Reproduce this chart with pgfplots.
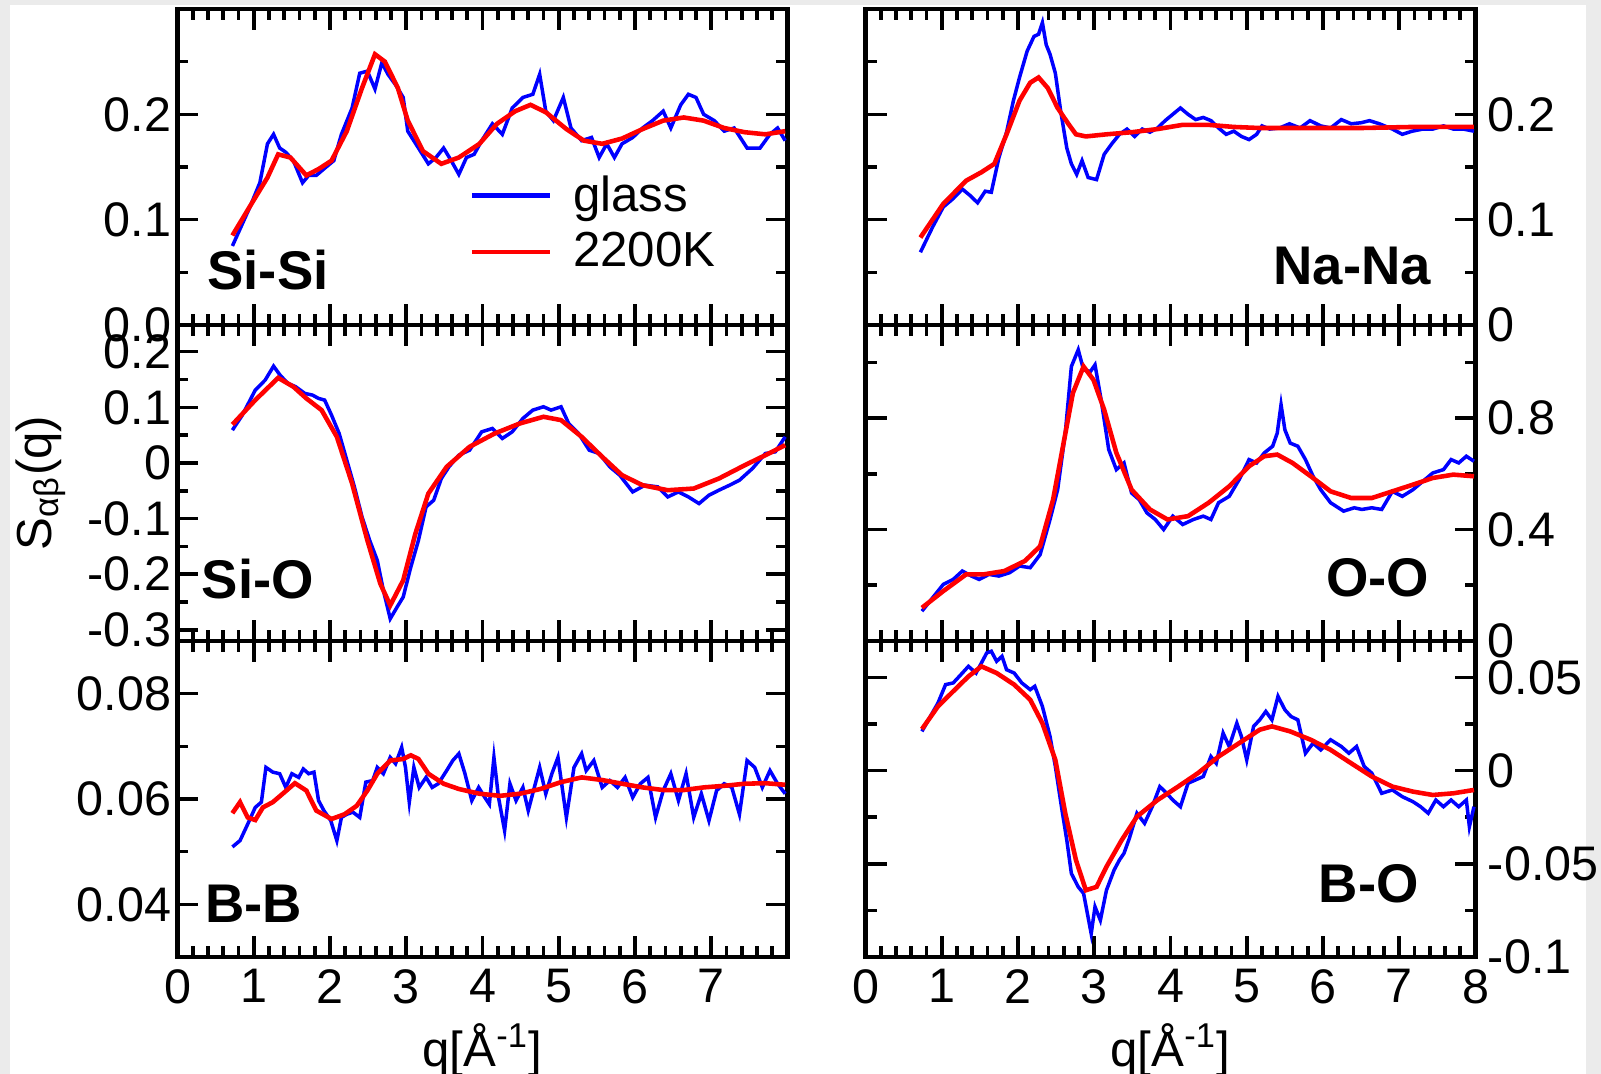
\documentclass[border=0pt]{standalone}
\usepackage{fontspec}
\setmainfont{Liberation Sans}
\usepackage{pgfplots}
\pgfplotsset{compat=1.18}

\newcommand\ticks{\fontsize{13.8}{16}\selectfont}
\newcommand\lbl{\fontsize{14}{16}\selectfont}
\newcommand\panel{\fontsize{15.5}{18}\selectfont\bfseries}

\tikzset{tag/.style={font=\panel, inner sep=0pt}}
\pgfplotsset{
  sq/.style={
    scale only axis, width=6.10cm, height=3.16cm,
    xmin=0, xmax=8, xtick={0,1,...,8}, minor x tick num=4,
    scaled ticks=false,
    tick align=inside,
    major tick length=0.21cm, minor tick length=0.11cm,
    every tick/.style={black, line width=1pt},
    axis line style={line width=1.2pt},
    tick label style={font=\ticks},
    xticklabels={},
    yticklabel style={xshift=0.06cm},
    clip=true,
  },
  right col/.style={yticklabel pos=right, ytick pos=both, yticklabel style={xshift=-0.06cm}},
  glass/.style={color=blue, line width=1.0pt},
  hot/.style={color=red, line width=1.3pt},
}

\begin{document}
\begin{tikzpicture}
\fill[black!8] (0,0) rectangle (16.01,10.74);
\fill[white] (0.10,0) rectangle (15.86,10.69);

% ---------------- Si-Si
\begin{axis}[sq, at={(1.775cm,10.65cm)}, anchor=north west,
  ymin=0, ymax=0.3, ytick={0,0.1,0.2}, yticklabels={0.0,0.1,0.2},
  minor ytick={0.05,0.15,0.25},
  legend cell align=left,
  legend style={draw=none, fill=none, font=\fontsize{14}{16}\selectfont,
    at={(0.46,0.52)}, anchor=north west, row sep=0.5pt},
  legend image code/.code={\draw[#1, line width=1.4pt] (0cm,0cm) -- (0.78cm,0cm); \path (0.92cm,0cm);},
]
\addplot[glass] coordinates {
(0.72,0.075)(0.95,0.112)(1.08,0.135)(1.18,0.172)(1.26,0.181)(1.34,0.168)(1.42,0.164)
(1.52,0.156)(1.64,0.135)(1.72,0.142)(1.82,0.142)(1.95,0.150)(2.05,0.156)(2.15,0.181)
(2.29,0.206)(2.39,0.239)(2.49,0.241)(2.59,0.224)(2.68,0.249)(2.76,0.238)(2.86,0.228)
(2.96,0.216)(3.02,0.184)(3.16,0.168)(3.29,0.153)(3.39,0.159)(3.49,0.168)(3.59,0.156)
(3.69,0.143)(3.79,0.159)(3.89,0.162)(3.99,0.175)(4.13,0.191)(4.26,0.181)(4.39,0.206)
(4.53,0.216)(4.66,0.219)(4.75,0.238)(4.83,0.203)(4.93,0.194)(5.06,0.216)(5.16,0.187)
(5.30,0.175)(5.43,0.178)(5.53,0.159)(5.63,0.172)(5.73,0.159)(5.83,0.172)(5.97,0.178)
(6.10,0.187)(6.23,0.194)(6.37,0.203)(6.47,0.187)(6.60,0.209)(6.70,0.219)(6.80,0.216)
(6.90,0.200)(7.04,0.194)(7.17,0.184)(7.30,0.187)(7.47,0.168)(7.64,0.168)(7.77,0.181)
(7.87,0.187)(7.97,0.175)
};
\addlegendentry{glass}
\addplot[hot] coordinates {
(0.72,0.085)(1.02,0.121)(1.18,0.140)(1.32,0.162)(1.48,0.159)(1.69,0.142)(1.85,0.148)
(2.02,0.156)(2.22,0.184)(2.42,0.225)(2.59,0.257)(2.72,0.250)(2.89,0.225)(3.02,0.194)
(3.22,0.165)(3.46,0.153)(3.69,0.159)(3.96,0.172)(4.19,0.191)(4.43,0.203)(4.63,0.209)
(4.83,0.202)(5.10,0.186)(5.33,0.175)(5.57,0.172)(5.83,0.177)(6.10,0.186)(6.37,0.194)
(6.64,0.197)(6.90,0.194)(7.17,0.187)(7.44,0.183)(7.71,0.181)(7.97,0.184)
};
\addlegendentry{2200K}
\node[anchor=base west, tag] at (rel axis cs:0.048,0.111) {Si-Si};
\end{axis}

% ---------------- Na-Na
\begin{axis}[sq, right col, at={(8.655cm,10.65cm)}, anchor=north west,
  ymin=0, ymax=0.3, ytick={0,0.1,0.2}, yticklabels={0,0.1,0.2},
  minor ytick={0.05,0.15,0.25}]
\addplot[glass] coordinates {
(0.72,0.069)(0.88,0.093)(1.02,0.112)(1.15,0.120)(1.27,0.129)(1.37,0.123)(1.47,0.116)
(1.57,0.127)(1.65,0.126)(1.75,0.159)(1.85,0.183)(1.94,0.213)(2.02,0.235)(2.12,0.260)
(2.21,0.274)(2.27,0.276)(2.32,0.287)(2.37,0.266)(2.42,0.257)(2.49,0.239)(2.56,0.203)
(2.64,0.168)(2.70,0.153)(2.77,0.143)(2.84,0.156)(2.92,0.140)(3.03,0.138)(3.13,0.162)
(3.23,0.172)(3.33,0.181)(3.43,0.186)(3.53,0.179)(3.63,0.186)(3.73,0.183)(3.83,0.187)
(3.93,0.194)(4.03,0.200)(4.13,0.206)(4.23,0.200)(4.33,0.195)(4.43,0.197)(4.53,0.194)
(4.63,0.187)(4.73,0.181)(4.83,0.184)(4.93,0.179)(5.03,0.176)(5.13,0.181)(5.20,0.189)
(5.30,0.186)(5.43,0.187)(5.56,0.191)(5.70,0.187)(5.83,0.194)(5.97,0.189)(6.10,0.187)
(6.24,0.195)(6.37,0.191)(6.50,0.192)(6.61,0.194)(6.74,0.191)(6.91,0.186)(7.04,0.181)
(7.17,0.184)(7.31,0.186)(7.44,0.186)(7.58,0.189)(7.71,0.186)(7.84,0.186)(7.98,0.184)
};
\addplot[hot] coordinates {
(0.72,0.083)(1.02,0.115)(1.32,0.137)(1.52,0.145)(1.69,0.153)(1.85,0.181)(2.02,0.213)
(2.16,0.230)(2.27,0.235)(2.39,0.225)(2.52,0.206)(2.66,0.191)(2.76,0.181)(2.89,0.179)
(3.16,0.181)(3.49,0.183)(3.83,0.186)(4.16,0.190)(4.50,0.190)(4.83,0.188)(5.17,0.187)
(5.84,0.187)(6.51,0.187)(7.17,0.188)(7.98,0.188)
};
\node[anchor=base east, tag] at (rel axis cs:0.928,0.128) {Na-Na};
\end{axis}

% ---------------- Si-O
\begin{axis}[sq, at={(1.775cm,7.49cm)}, anchor=north west,
  ymin=-0.32, ymax=0.248, ytick={-0.3,-0.2,-0.1,0,0.1,0.2},
  yticklabels={-0.3,-0.2,-0.1,0,0.1,0.2},
  minor ytick={-0.25,-0.15,-0.05,0.05,0.15},
  ylabel={S\textsubscript{αβ}(q)},
  ylabel style={font=\lbl, at={(axis description cs:-0.224,0.5)}, anchor=center}]
\addplot[glass] coordinates {
(0.72,0.059)(0.85,0.086)(1.02,0.131)(1.15,0.149)(1.26,0.174)(1.35,0.157)(1.45,0.143)
(1.55,0.137)(1.67,0.125)(1.77,0.122)(1.85,0.116)(1.93,0.113)(2.02,0.086)(2.12,0.053)
(2.22,0.005)(2.32,-0.043)(2.42,-0.097)(2.52,-0.139)(2.62,-0.175)(2.70,-0.229)(2.79,-0.280)
(2.88,-0.259)(2.96,-0.241)(3.06,-0.187)(3.16,-0.139)(3.26,-0.079)(3.36,-0.067)(3.46,-0.028)
(3.56,-0.007)(3.69,0.014)(3.83,0.023)(3.99,0.056)(4.13,0.062)(4.26,0.044)(4.39,0.056)
(4.53,0.080)(4.66,0.095)(4.80,0.101)(4.90,0.095)(5.03,0.101)(5.13,0.071)(5.26,0.053)
(5.40,0.023)(5.53,0.017)(5.67,-0.007)(5.80,-0.022)(5.97,-0.052)(6.13,-0.040)(6.30,-0.043)
(6.43,-0.061)(6.57,-0.052)(6.70,-0.061)(6.84,-0.073)(6.97,-0.058)(7.10,-0.049)(7.24,-0.040)
(7.37,-0.031)(7.54,-0.010)(7.71,0.017)(7.84,0.020)(7.97,0.047)
};
\addplot[hot] coordinates {
(0.72,0.069)(1.02,0.113)(1.32,0.153)(1.52,0.137)(1.69,0.116)(1.89,0.095)(2.09,0.047)
(2.29,-0.037)(2.49,-0.139)(2.66,-0.217)(2.79,-0.256)(2.96,-0.211)(3.12,-0.127)(3.29,-0.055)
(3.53,-0.007)(3.83,0.029)(4.16,0.053)(4.49,0.071)(4.80,0.083)(5.03,0.077)(5.30,0.047)
(5.57,0.011)(5.83,-0.022)(6.10,-0.040)(6.43,-0.049)(6.77,-0.046)(7.10,-0.028)(7.44,-0.004)
(7.71,0.014)(7.97,0.032)
};
\node[anchor=base west, tag] at (rel axis cs:0.039,0.133) {Si-O};
\end{axis}

% ---------------- O-O
\begin{axis}[sq, right col, at={(8.655cm,7.49cm)}, anchor=north west,
  ymin=0, ymax=1.134, ytick={0,0.4,0.8}, yticklabels={0,0.4,0.8},
  minor ytick={0.2,0.6,1.0}]
\addplot[glass] coordinates {
(0.74,0.107)(0.88,0.155)(1.02,0.203)(1.15,0.221)(1.27,0.251)(1.39,0.233)(1.49,0.221)
(1.62,0.239)(1.75,0.233)(1.89,0.245)(2.02,0.269)(2.16,0.263)(2.29,0.310)(2.42,0.436)
(2.52,0.543)(2.62,0.746)(2.70,0.985)(2.79,1.045)(2.86,0.973)(2.95,0.967)(3.01,0.991)
(3.09,0.866)(3.19,0.687)(3.29,0.615)(3.39,0.639)(3.49,0.531)(3.59,0.507)(3.69,0.460)
(3.80,0.436)(3.91,0.400)(4.03,0.448)(4.16,0.418)(4.30,0.436)(4.43,0.448)(4.53,0.436)
(4.63,0.496)(4.77,0.519)(4.90,0.579)(5.03,0.651)(5.13,0.639)(5.23,0.675)(5.34,0.699)
(5.40,0.746)(5.45,0.848)(5.50,0.758)(5.57,0.710)(5.67,0.699)(5.77,0.651)(5.87,0.591)
(5.97,0.543)(6.10,0.496)(6.27,0.466)(6.41,0.478)(6.51,0.472)(6.64,0.478)(6.77,0.472)
(6.91,0.537)(7.04,0.519)(7.18,0.543)(7.31,0.573)(7.44,0.603)(7.58,0.615)(7.68,0.651)
(7.78,0.639)(7.88,0.663)(7.98,0.645)
};
\addplot[hot] coordinates {
(0.74,0.119)(1.02,0.179)(1.32,0.239)(1.55,0.239)(1.82,0.251)(2.09,0.287)(2.29,0.340)
(2.46,0.507)(2.59,0.699)(2.72,0.890)(2.86,0.985)(2.99,0.937)(3.13,0.830)(3.29,0.675)
(3.49,0.543)(3.73,0.472)(3.96,0.436)(4.23,0.448)(4.50,0.496)(4.77,0.555)(5.03,0.627)
(5.23,0.663)(5.40,0.669)(5.60,0.639)(5.84,0.591)(6.10,0.537)(6.37,0.513)(6.64,0.513)
(6.91,0.537)(7.18,0.561)(7.44,0.585)(7.71,0.597)(7.98,0.591)
};
\node[anchor=base east, tag] at (rel axis cs:0.925,0.140) {O-O};
\end{axis}

% ---------------- B-B
\begin{axis}[sq, at={(1.775cm,4.33cm)}, anchor=north west,
  ymin=0.03, ymax=0.09, ytick={0.04,0.06,0.08}, yticklabels={0.04,0.06,0.08},
  minor ytick={0.05,0.07},
  xticklabels={0,1,2,3,4,5,6,7,},
  xlabel={q[Å\textsuperscript{-1}]},
  xlabel style={font=\lbl, at={(axis description cs:0.5,-0.294)}, anchor=center}]
\addplot[glass] coordinates {
(0.72,0.0509)(0.82,0.0521)(0.92,0.0552)(1.02,0.0584)(1.10,0.0594)(1.16,0.0660)(1.25,0.0651)
(1.34,0.0648)(1.42,0.0622)(1.50,0.0648)(1.59,0.0641)(1.65,0.0657)(1.72,0.0648)(1.79,0.0651)
(1.85,0.0597)(1.92,0.0578)(2.01,0.0559)(2.09,0.0521)(2.15,0.0565)(2.22,0.0571)(2.30,0.0575)
(2.39,0.0565)(2.47,0.0632)(2.56,0.0635)(2.62,0.0660)(2.70,0.0648)(2.79,0.0679)(2.86,0.0667)
(2.94,0.0698)(2.99,0.0660)(3.04,0.0594)(3.10,0.0660)(3.17,0.0622)(3.26,0.0641)(3.34,0.0622)
(3.42,0.0629)(3.53,0.0654)(3.61,0.0673)(3.69,0.0686)(3.77,0.0648)(3.86,0.0597)(3.95,0.0622)
(4.03,0.0603)(4.09,0.0590)(4.15,0.0679)(4.21,0.0603)(4.29,0.0540)(4.36,0.0629)(4.44,0.0597)
(4.53,0.0622)(4.60,0.0578)(4.68,0.0622)(4.75,0.0660)(4.83,0.0610)(4.91,0.0648)(4.99,0.0679)
(5.10,0.0565)(5.20,0.0660)(5.30,0.0686)(5.36,0.0654)(5.46,0.0673)(5.57,0.0622)(5.67,0.0635)
(5.77,0.0622)(5.87,0.0641)(5.97,0.0603)(6.07,0.0629)(6.17,0.0641)(6.27,0.0565)(6.37,0.0616)
(6.47,0.0648)(6.57,0.0597)(6.67,0.0648)(6.77,0.0565)(6.87,0.0610)(6.97,0.0559)(7.07,0.0616)
(7.17,0.0629)(7.27,0.0622)(7.37,0.0571)(7.47,0.0673)(7.57,0.0660)(7.67,0.0622)(7.77,0.0654)
(7.87,0.0629)(7.97,0.0610)
};
\addplot[hot] coordinates {
(0.72,0.0573)(0.82,0.0594)(0.92,0.0565)(1.02,0.0560)(1.12,0.0584)(1.25,0.0594)(1.38,0.0610)
(1.54,0.0630)(1.69,0.0616)(1.82,0.0578)(2.02,0.0562)(2.19,0.0571)(2.35,0.0587)(2.49,0.0616)
(2.62,0.0648)(2.79,0.0673)(2.96,0.0676)(3.06,0.0683)(3.16,0.0676)(3.29,0.0648)(3.49,0.0629)
(3.69,0.0619)(3.96,0.0610)(4.23,0.0606)(4.49,0.0610)(4.76,0.0619)(5.03,0.0632)(5.30,0.0641)
(5.57,0.0636)(5.83,0.0629)(6.10,0.0622)(6.37,0.0617)(6.64,0.0617)(6.90,0.0622)(7.17,0.0625)
(7.44,0.0629)(7.71,0.0630)(7.97,0.0627)
};
\node[anchor=base west, tag] at (rel axis cs:0.044,0.108) {B-B};
\end{axis}

% ---------------- B-O
\begin{axis}[sq, right col, at={(8.655cm,4.33cm)}, anchor=north west,
  ymin=-0.1, ymax=0.0695, ytick={-0.1,-0.05,0,0.05}, yticklabels={-0.1,-0.05,0,0.05},
  minor ytick={-0.075,-0.025,0.025},
  xticklabels={0,1,2,3,4,5,6,7,8},
  xlabel={q[Å\textsuperscript{-1}]},
  xlabel style={font=\lbl, at={(axis description cs:0.5,-0.294)}, anchor=center}]
\addplot[glass] coordinates {
(0.74,0.0210)(0.85,0.0290)(0.95,0.0362)(1.05,0.0461)(1.15,0.0470)(1.25,0.0514)(1.35,0.0559)
(1.45,0.0523)(1.52,0.0577)(1.59,0.0631)(1.65,0.0640)(1.72,0.0586)(1.79,0.0613)(1.85,0.0541)
(1.95,0.0523)(2.05,0.0470)(2.16,0.0434)(2.22,0.0452)(2.32,0.0344)(2.42,0.0183)(2.49,0.0022)
(2.57,-0.0194)(2.64,-0.0373)(2.70,-0.0552)(2.79,-0.0624)(2.86,-0.0659)(2.91,-0.0767)(2.96,-0.0875)
(3.01,-0.0731)(3.08,-0.0803)(3.16,-0.0642)(3.26,-0.0534)(3.33,-0.0480)(3.39,-0.0444)(3.46,-0.0364)
(3.56,-0.0229)(3.66,-0.0283)(3.76,-0.0194)(3.86,-0.0086)(3.95,-0.0122)(4.03,-0.0158)(4.13,-0.0194)
(4.23,-0.0068)(4.33,-0.0050)(4.43,-0.0032)(4.53,0.0075)(4.60,0.0039)(4.69,0.0201)(4.77,0.0129)
(4.87,0.0254)(4.93,0.0183)(5.00,0.0057)(5.09,0.0237)(5.17,0.0272)(5.25,0.0317)(5.33,0.0272)
(5.41,0.0398)(5.50,0.0326)(5.58,0.0290)(5.67,0.0272)(5.77,0.0093)(5.87,0.0147)(5.97,0.0111)
(6.10,0.0165)(6.24,0.0129)(6.34,0.0093)(6.44,0.0129)(6.54,0.0022)(6.64,-0.0014)(6.77,-0.0122)
(6.91,-0.0104)(7.04,-0.0140)(7.18,-0.0167)(7.28,-0.0194)(7.38,-0.0229)(7.48,-0.0158)(7.58,-0.0194)
(7.68,-0.0158)(7.78,-0.0194)(7.88,-0.0158)(7.92,-0.0301)(7.98,-0.0194)
};
\addplot[hot] coordinates {
(0.74,0.0222)(0.95,0.0344)(1.15,0.0425)(1.35,0.0505)(1.52,0.0559)(1.72,0.0523)(1.95,0.0461)
(2.16,0.0380)(2.32,0.0254)(2.49,0.0057)(2.62,-0.0229)(2.76,-0.0480)(2.89,-0.0642)(3.03,-0.0624)
(3.16,-0.0516)(3.36,-0.0373)(3.56,-0.0247)(3.83,-0.0158)(4.10,-0.0086)(4.36,-0.0014)(4.63,0.0075)
(4.90,0.0147)(5.17,0.0219)(5.33,0.0237)(5.57,0.0210)(5.84,0.0165)(6.10,0.0111)(6.37,0.0039)
(6.64,-0.0032)(6.91,-0.0086)(7.18,-0.0113)(7.44,-0.0131)(7.71,-0.0122)(7.98,-0.0104)
};
\node[anchor=base east, tag] at (rel axis cs:0.908,0.171) {B-O};
\end{axis}

\pgfresetboundingbox
\path[use as bounding box] (0,0) rectangle (16.01,10.74);
\end{tikzpicture}
\end{document}
